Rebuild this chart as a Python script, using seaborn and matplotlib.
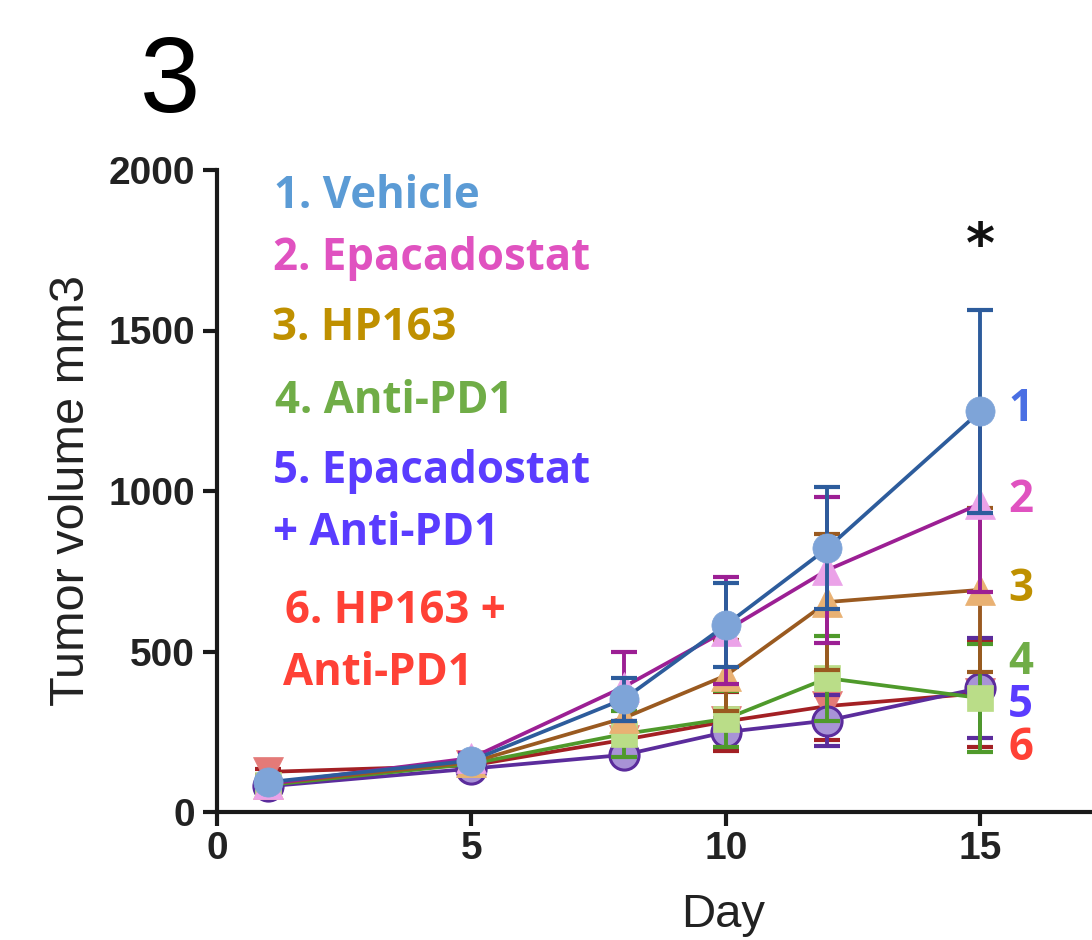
import matplotlib
matplotlib.use("Agg")
import matplotlib.pyplot as plt
import seaborn as sns
import pandas as pd

# ── Data ─────────────────────────────────────────────────────────────
days = [1, 5, 8, 10, 12, 15]

vehicle = [93, 160, 352, 582, 822, 1248]
vehicle_err = [12, 18, 67, 130, 190, 316]

epacadostat = [88, 168, 390, 565, 754, 960]
epacadostat_err = [10, 15, 108, 167, 227, 275]

hp163 = [88, 155, 293, 425, 654, 692]
hp163_err = [10, 15, 40, 110, 212, 255]

anti_pd1 = [84, 150, 243, 290, 417, 355]
anti_pd1_err = [10, 15, 72, 88, 132, 168]

epa_anti = [80, 135, 178, 249, 285, 386]
epa_anti_err = [10, 10, 20, 45, 78, 155]

hp_anti = [125, 145, 225, 282, 330, 370]
hp_anti_err = [10, 12, 30, 93, 106, 166]

legend_lines = ["1. Vehicle", "2. Epacadostat", "3. HP163", "4. Anti-PD1",
                "5. Epacadostat", "+ Anti-PD1", "6. HP163 +", "Anti-PD1"]
end_labels = ["1", "2", "3", "4", "5", "6"]

W, H = 1092, 940

sns.set_style("ticks")
plt.rcParams["font.family"] = ["Liberation Sans", "DejaVu Sans"]

fig = plt.figure(figsize=(W / 100, H / 100), dpi=100)
ax = fig.add_axes([217 / W, 1 - 812 / H, (W - 217) / W, (812 - 170) / H])


def px(x, y):
    return x / W, 1 - y / H


# name, values, errors, line colour, marker, face colour, edge colour, zorder
series = [
    ("HP163 + Anti-PD1", hp_anti, hp_anti_err, "#A32024", "v", "#E47A78", "#E47A78", 2),
    ("Epacadostat + Anti-PD1", epa_anti, epa_anti_err, "#5B2C9C", "o", "#A893D6", "#5B2C9C", 3),
    ("Anti-PD1", anti_pd1, anti_pd1_err, "#4F9A2B", "s", "#BADD88", "#BADD88", 4),
    ("HP163", hp163, hp163_err, "#9A5A20", "^", "#E9B173", "#E9B173", 5),
    ("Epacadostat", epacadostat, epacadostat_err, "#9C1F94", "^", "#EBA2E8", "#EBA2E8", 6),
    ("Vehicle", vehicle, vehicle_err, "#2D5C9C", "o", "#7EA4D8", "#7EA4D8", 7),
]

for name, vals, errs, lc, mk, fc, ec, z in series:
    df = pd.DataFrame({"Day": days, "Volume": vals})
    ax.errorbar(days, vals, yerr=errs, fmt="none", ecolor=lc, elinewidth=2.8,
                capsize=9.5, capthick=3, zorder=z * 2)
    ms = 19 if mk == "s" else 21
    mew = 2.2 if ec != fc else 0.5
    sns.lineplot(data=df, x="Day", y="Volume", ax=ax, color=lc, linewidth=2.7,
                 marker=mk, markersize=ms, markerfacecolor=fc,
                 markeredgecolor=ec, markeredgewidth=mew, zorder=z * 2 + 1)

ax.set_xlim(0, 17.2)
ax.set_ylim(0, 2000)
ax.set_xticks([0, 5, 10, 15])
ax.set_yticks([0, 500, 1000, 1500, 2000])
ax.set_xlabel("")
ax.set_ylabel("Tumor volume mm3", fontsize=35, color="#222222", labelpad=10)
for side in ["top", "right"]:
    ax.spines[side].set_visible(False)
for side in ["left", "bottom"]:
    ax.spines[side].set_linewidth(3)
    ax.spines[side].set_color("#1a1a1a")
ax.tick_params(axis="both", width=3, length=10, color="#1a1a1a",
               labelsize=28, labelcolor="#222222")
ax.tick_params(axis="x", pad=4)
ax.tick_params(axis="y", pad=6)
for lab in ax.get_xticklabels() + ax.get_yticklabels():
    lab.set_fontweight("bold")

# x label, near the bottom edge like the original
fig.text(*px(723, 927), "Day", fontsize=34, ha="center", va="baseline", color="#222222")

# panel number
fig.text(*px(170, 112), "3", fontsize=78, ha="center", va="baseline", color="black")

# coloured legend text
leg_font = ["Open Sans", "DejaVu Sans"]
leg_colors = ["#5B9BD5", "#E052C0", "#BF9000", "#70AD47",
              "#5A3CFF", "#5A3CFF", "#FF4136", "#FF4136"]
leg_pos = [(274, 208), (273, 270), (272, 340), (275, 413),
           (273, 483), (273, 545), (285, 623), (283, 685)]
for txt, col, (x, y) in zip(legend_lines, leg_colors, leg_pos):
    fig.text(*px(x, y), txt, fontsize=31.5, fontweight="bold", family=leg_font,
             color=col, ha="left", va="baseline")

# group numbers at the end of the lines
end_colors = ["#4A6FE3", "#E052C0", "#BF9000", "#70AD47", "#5A3CFF", "#FF4136"]
end_y = [421, 512, 601, 674, 717, 760]
for txt, col, y in zip(end_labels, end_colors, end_y):
    fig.text(*px(1008, y), txt, fontsize=31.5, fontweight="bold", family=leg_font,
             color=col, ha="left", va="baseline")

# significance star
fig.text(*px(980, 262), "*", fontsize=40, fontweight="bold", family=["DejaVu Sans"],
         color="#111111", ha="center", va="baseline")

fig.savefig("out.png", dpi=100)
